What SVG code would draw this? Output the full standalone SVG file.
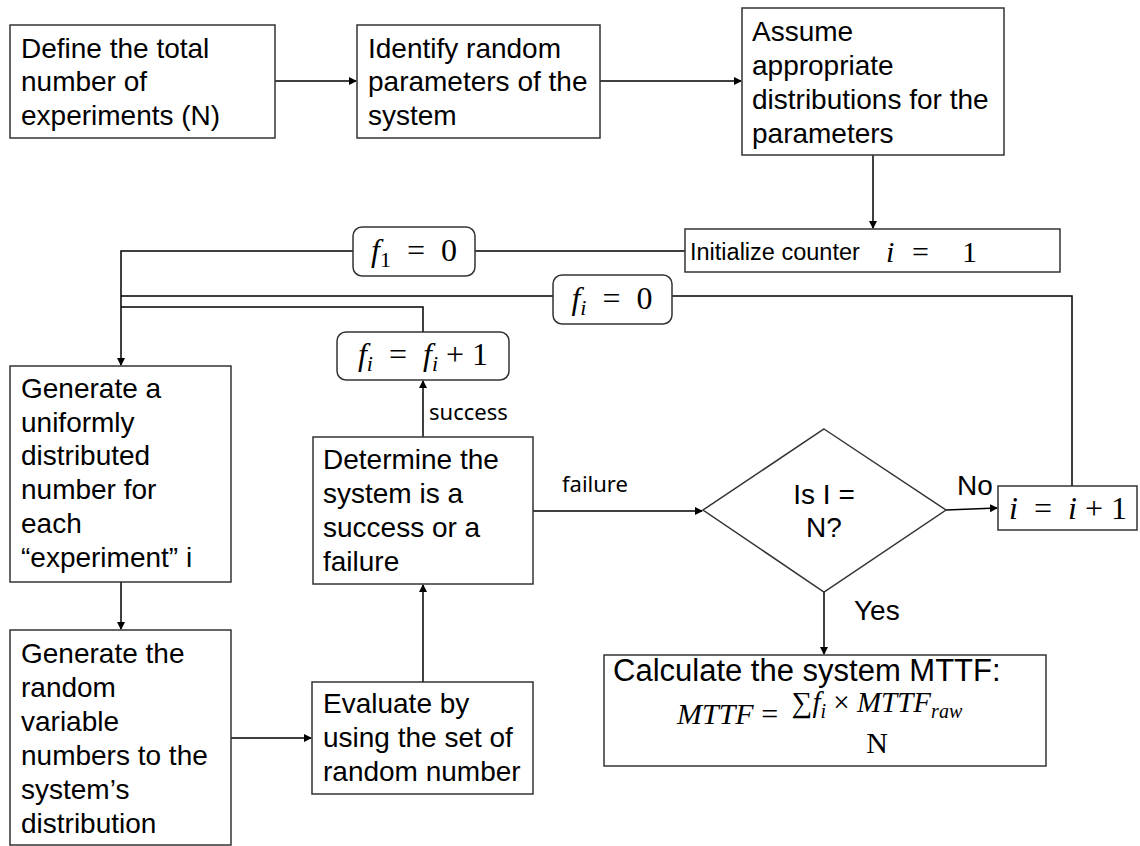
<svg xmlns="http://www.w3.org/2000/svg" width="1140" height="846" viewBox="0 0 1140 846">
<style>
.box{fill:#fff;stroke:#333;stroke-width:1.5}
.rbox{fill:#fff;stroke:#333;stroke-width:1.5}
.t{font-family:"Liberation Sans",Arial,sans-serif;font-size:28px;fill:#000}
.m{font-family:"Liberation Serif","Times New Roman",serif;font-size:32px;fill:#000}
.i{font-style:italic}
.lbl{font-family:"Noto Sans","Open Sans",sans-serif;font-size:22px;fill:#000}
.c{fill:none;stroke:#000;stroke-width:1.5}
</style>
<defs>
<marker id="ah" markerWidth="8" markerHeight="8" refX="7" refY="4" orient="auto" markerUnits="userSpaceOnUse">
<path d="M0,0 L8,4 L0,8 Z" fill="#000"/>
</marker>
</defs>
<g id="connectors">
<line class="c" x1="275" y1="81" x2="356" y2="81" marker-end="url(#ah)"/>
<line class="c" x1="600" y1="81" x2="741" y2="81" marker-end="url(#ah)"/>
<line class="c" x1="873" y1="155" x2="873" y2="228" marker-end="url(#ah)"/>
<polyline class="c" points="685,251 121,251 121,365" marker-end="url(#ah)"/>
<polyline class="c" points="1072,486 1072,296 121,296"/>
<polyline class="c" points="423,332 423,307 121,307"/>
<line class="c" x1="121" y1="582" x2="121" y2="629" marker-end="url(#ah)"/>
<line class="c" x1="231" y1="738" x2="311" y2="738" marker-end="url(#ah)"/>
<line class="c" x1="423" y1="682" x2="423" y2="585" marker-end="url(#ah)"/>
<line class="c" x1="423" y1="437" x2="423" y2="381" marker-end="url(#ah)"/>
<line class="c" x1="533" y1="511" x2="702" y2="511" marker-end="url(#ah)"/>
<line class="c" x1="946" y1="510" x2="997" y2="508" marker-end="url(#ah)"/>
<line class="c" x1="824" y1="592" x2="824" y2="654" marker-end="url(#ah)"/>
<text class="lbl" x="429" y="420">success</text>
<text class="lbl" x="562" y="492">failure</text>
<text class="t" x="957" y="495">No</text>
<text class="t" x="854" y="620">Yes</text>
</g>
<g id="define">
<rect class="box" x="10" y="25" width="265" height="113"/>
<text class="t" x="21" y="58">Define the total</text>
<text class="t" x="21" y="91">number of</text>
<text class="t" x="21" y="125">experiments (N)</text>
</g>
<g id="identify">
<rect class="box" x="357" y="25" width="243" height="113"/>
<text class="t" x="368" y="58">Identify random</text>
<text class="t" x="368" y="91">parameters of the</text>
<text class="t" x="368" y="125">system</text>
</g>
<g id="assume">
<rect class="box" x="742" y="8" width="262" height="147"/>
<text class="t" x="752" y="41">Assume</text>
<text class="t" x="752" y="75">appropriate</text>
<text class="t" x="752" y="109">distributions for the</text>
<text class="t" x="752" y="143">parameters</text>
</g>
<g id="init">
<rect class="box" x="685" y="229" width="375" height="43"/>
<text class="t" x="690" y="260" style="font-size:23.5px">Initialize counter</text>
<text class="m" y="262" style="font-size:30px"><tspan class="i" x="886">i</tspan><tspan x="912">=</tspan><tspan x="962">1</tspan></text>
</g>
<g id="f1zero">
<rect class="rbox" x="353" y="227" width="122" height="49" rx="9"/>
<text class="m" x="414" y="261" text-anchor="middle" xml:space="preserve"><tspan class="i">f</tspan><tspan font-size="22" dy="6">1</tspan><tspan dy="-6">  =  0</tspan></text>
</g>
<g id="fizero">
<rect class="rbox" x="553" y="275" width="119" height="49" rx="9"/>
<text class="m" x="612" y="309" text-anchor="middle" xml:space="preserve"><tspan class="i">f</tspan><tspan class="i" font-size="22" dy="6">i</tspan><tspan dy="-6">  =  0</tspan></text>
</g>
<g id="fiplus">
<rect class="rbox" x="337" y="332" width="172" height="48" rx="9"/>
<text class="m" x="423" y="365" text-anchor="middle" xml:space="preserve"><tspan class="i">f</tspan><tspan class="i" font-size="22" dy="6">i</tspan><tspan dy="-6">  =  </tspan><tspan class="i">f</tspan><tspan class="i" font-size="22" dy="6">i</tspan><tspan dy="-6"> + 1</tspan></text>
</g>
<g id="generate-uniform">
<rect class="box" x="10" y="366" width="221" height="216"/>
<text class="t" x="21" y="398">Generate a</text>
<text class="t" x="21" y="432">uniformly</text>
<text class="t" x="21" y="465">distributed</text>
<text class="t" x="21" y="499">number for</text>
<text class="t" x="21" y="533">each</text>
<text class="t" x="21" y="567">“experiment” i</text>
</g>
<g id="generate-random">
<rect class="box" x="10" y="630" width="221" height="215"/>
<text class="t" x="21" y="663">Generate the</text>
<text class="t" x="21" y="697">random</text>
<text class="t" x="21" y="731">variable</text>
<text class="t" x="21" y="765">numbers to the</text>
<text class="t" x="21" y="799">system’s</text>
<text class="t" x="21" y="833">distribution</text>
</g>
<g id="determine">
<rect class="box" x="313" y="437" width="220" height="147"/>
<text class="t" x="323" y="469">Determine the</text>
<text class="t" x="323" y="503">system is a</text>
<text class="t" x="323" y="537">success or a</text>
<text class="t" x="323" y="571">failure</text>
</g>
<g id="evaluate">
<rect class="box" x="312" y="682" width="221" height="112"/>
<text class="t" x="323" y="713">Evaluate by</text>
<text class="t" x="323" y="747">using the set of</text>
<text class="t" x="323" y="781">random number</text>
</g>
<g id="decision">
<polygon class="box" points="824,429 946,510 824,592 703,510"/>
<text class="t" x="824" y="504" text-anchor="middle">Is I =</text>
<text class="t" x="824" y="537" text-anchor="middle">N?</text>
</g>
<g id="increment">
<rect class="box" x="998" y="486" width="139" height="44"/>
<text class="m" x="1068" y="519" text-anchor="middle" xml:space="preserve"><tspan class="i">i</tspan>  =  <tspan class="i">i</tspan> + 1</text>
</g>
<g id="calculate">
<rect class="box" x="604" y="655" width="442" height="111"/>
<text class="t" x="613" y="681" style="font-size:31px">Calculate the system MTTF:</text>
<text class="m" x="677" y="724" style="font-size:30px" xml:space="preserve"><tspan class="i">MTTF</tspan> =</text>
<text class="m" x="877" y="712" style="font-size:29px" text-anchor="middle" xml:space="preserve">∑<tspan class="i">f</tspan><tspan class="i" font-size="20" dy="6">i</tspan><tspan dy="-6"> × </tspan><tspan class="i">MTTF</tspan><tspan class="i" font-size="20" dy="6">raw</tspan></text>
<text class="m" x="877" y="753" style="font-size:30px" text-anchor="middle">N</text>
</g>
</svg>
